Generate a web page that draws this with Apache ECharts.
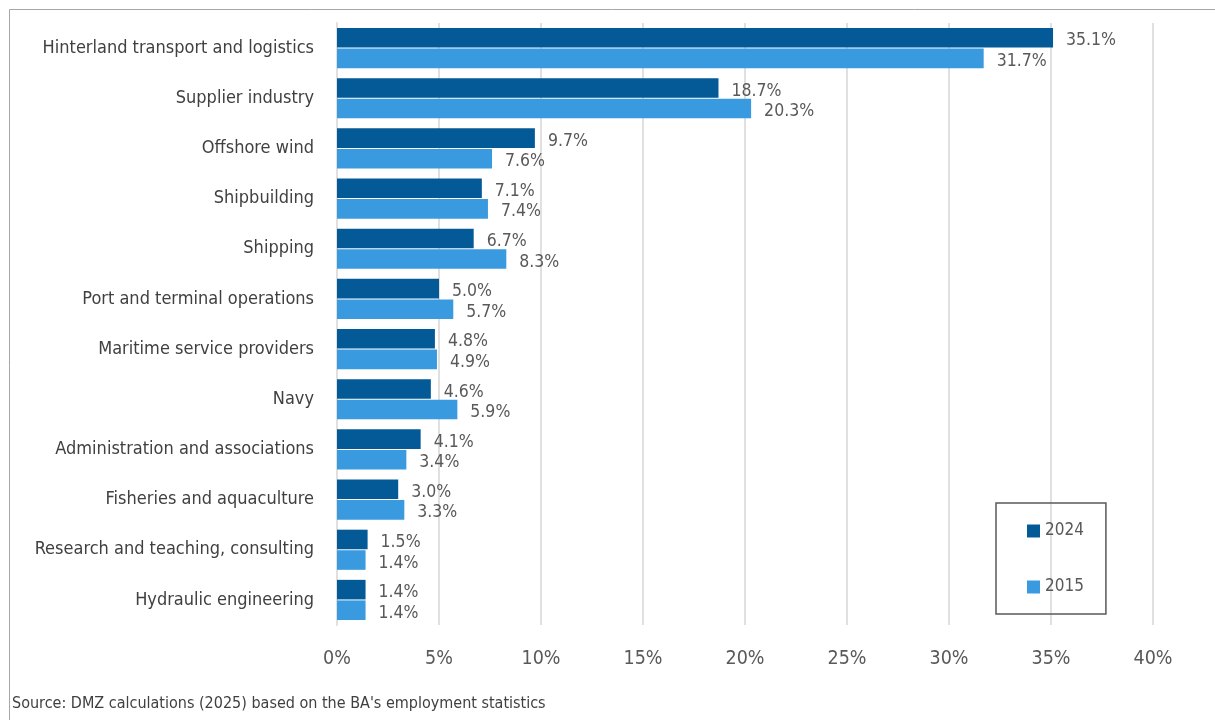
<!DOCTYPE html>
<html><head><meta charset="utf-8">
<script src="https://cdn.jsdelivr.net/npm/echarts@6/dist/echarts.min.js"></script>
<style>html,body{margin:0;padding:0;background:#fff}#c{width:1215px;height:720px}</style>
</head><body><div id="c"></div>
<script>
const categories = ["Hinterland transport and logistics","Supplier industry","Offshore wind","Shipbuilding","Shipping","Port and terminal operations","Maritime service providers","Navy","Administration and associations","Fisheries and aquaculture","Research and teaching, consulting","Hydraulic engineering"];
const values2024 = [35.1,18.7,9.7,7.1,6.7,5.0,4.8,4.6,4.1,3.0,1.5,1.4];
const values2015 = [31.7,20.3,7.6,7.4,8.3,5.7,4.9,5.9,3.4,3.3,1.4,1.4];
const seriesNames = ["2024","2015"];
const sourceText = "Source: DMZ calculations (2025) based on the BA's employment statistics";
const FONT = "DejaVu Sans Condensed";
const chart = echarts.init(document.getElementById('c'));
const lbl = {show:true,position:'right',distance:13,color:'#595959',fontFamily:FONT,fontSize:17.5,offset:[0,3],formatter:p=>p.value.toFixed(1)+'%'};
chart.setOption({
  animation:false,
  textStyle:{fontFamily:FONT},
  grid:{left:337,right:62,top:23,bottom:95,containLabel:false},
  graphic:[
    {type:'rect',shape:{x:9.5,y:9.5,width:1220,height:800},style:{fill:'none',stroke:'#a6a6a6',lineWidth:1},silent:true},
    {type:'text',left:12,top:696,style:{text:sourceText,fill:'#404040',fontSize:16,fontFamily:FONT}}
  ],
  legend:{orient:'vertical',left:996,top:503,padding:[18,22,17,31],itemGap:36,itemWidth:13,itemHeight:13,
    borderColor:'#595959',borderWidth:1.5,data:seriesNames,
    textStyle:{color:'#595959',fontSize:17,fontFamily:FONT,lineHeight:20},icon:'rect'},
  xAxis:{type:'value',min:0,max:40,interval:5,
    axisLabel:{formatter:'{value}%',color:'#595959',fontSize:19.5,margin:24,fontFamily:FONT},
    splitLine:{lineStyle:{color:'#e0e0e0',width:2}},axisLine:{show:false},axisTick:{show:false}},
  yAxis:{type:'category',data:categories,inverse:true,
    axisLabel:{color:'#404040',fontSize:18,margin:23,fontFamily:FONT},
    axisLine:{show:true,lineStyle:{color:'#e0e0e0',width:2}},axisTick:{show:false}},
  series:[
    {name:seriesNames[0],type:'bar',data:values2024,itemStyle:{color:'#045a96'},barGap:'5%',barCategoryGap:'20%',label:lbl},
    {name:seriesNames[1],type:'bar',data:values2015,itemStyle:{color:'#3a9ae0'},label:lbl}
  ]
});
</script></body></html>
